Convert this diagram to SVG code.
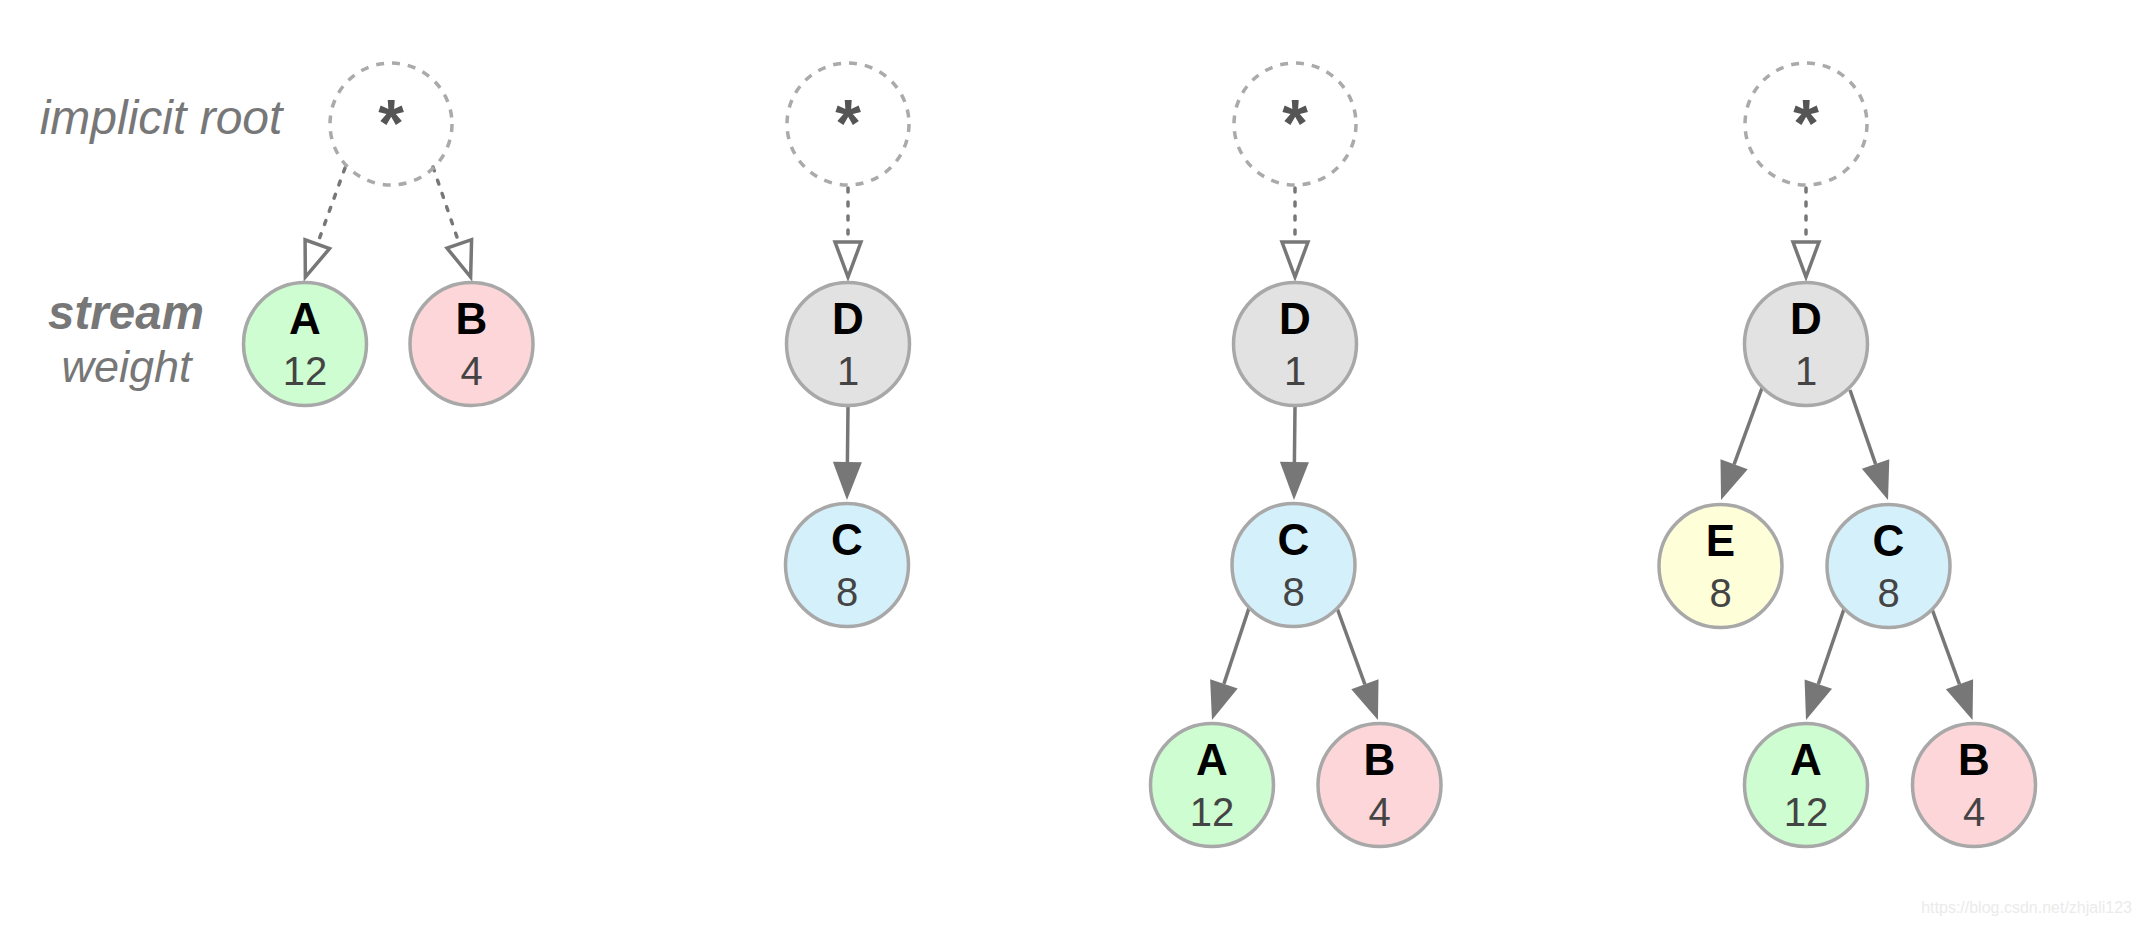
<svg xmlns="http://www.w3.org/2000/svg" width="2142" height="926" viewBox="0 0 2142 926">
<style>
.node{stroke:#a8a8a8;stroke-width:3.5}
.root{fill:none;stroke:#aaaaaa;stroke-width:3.5;stroke-dasharray:8 8}
.lbl{font-family:"Liberation Sans",Arial,sans-serif;font-weight:bold;font-size:44px;fill:#000;text-anchor:middle}
.num{font-family:"Liberation Sans",Arial,sans-serif;font-size:40px;fill:#444;text-anchor:middle}
.star{font-family:"Liberation Sans",Arial,sans-serif;font-weight:bold;font-size:66px;fill:#555;text-anchor:middle}
.side{font-family:"Liberation Sans",Arial,sans-serif;font-style:italic;font-size:46px;fill:#777;text-anchor:middle}
.dot{stroke:#777;stroke-width:3.5;stroke-linecap:round;stroke-dasharray:4 10;fill:none;marker-end:url(#open)}
.sol{stroke:#777;stroke-width:3.5;fill:none;marker-end:url(#fill)}
.a{fill:#cdfdd1}.b{fill:#fdd6d9}.c{fill:#d4f0fb}.d{fill:#e2e2e2}.e{fill:#fefed9}
</style>
<defs>
<marker id="open" markerUnits="userSpaceOnUse" markerWidth="50" markerHeight="40" refX="0" refY="0" viewBox="-5 -20 50 40" orient="auto" overflow="visible">
<path d="M0,-13 L35,0 L0,13 Z" fill="#fff" stroke="#777" stroke-width="3.5" stroke-linejoin="miter"/>
</marker>
<marker id="fill" markerUnits="userSpaceOnUse" markerWidth="50" markerHeight="40" refX="0" refY="0" viewBox="-5 -20 50 40" orient="auto" overflow="visible">
<path d="M0,-14.5 L38,0 L0,14.5 Z" fill="#777"/>
</marker>
</defs>
<rect width="2142" height="926" fill="#fff"/>

<g id="labels">
<text class="side" x="161" y="134" style="font-size:48px">implicit root</text>
<text class="side" x="126" y="329" font-weight="bold" style="font-size:47.5px">stream</text>
<text class="side" x="126.5" y="382" style="font-size:45px">weight</text>
</g>

<g id="connectors">
<line class="dot" x1="345" y1="168" x2="317.3" y2="244.2"/>
<line class="dot" x1="433" y1="167" x2="459.3" y2="243.9"/>
<line class="dot" x1="848" y1="188" x2="848" y2="242"/>
<line class="dot" x1="1295" y1="188" x2="1295" y2="242"/>
<line class="dot" x1="1806" y1="188" x2="1806" y2="242"/>
<line class="sol" x1="848" y1="407" x2="847.4" y2="462"/>
<line class="sol" x1="1295" y1="407" x2="1294.4" y2="462"/>
<line class="sol" x1="1249" y1="608" x2="1223.9" y2="683.9"/>
<line class="sol" x1="1337" y1="608" x2="1364.9" y2="684.3"/>
<line class="sol" x1="1762" y1="388" x2="1734.1" y2="464.3"/>
<line class="sol" x1="1850" y1="390" x2="1875.6" y2="464.1"/>
<line class="sol" x1="1844" y1="609" x2="1818.3" y2="684.1"/>
<line class="sol" x1="1932" y1="609" x2="1959.5" y2="684.3"/>
</g>

<g id="p1-root"><circle class="root" cx="391" cy="124" r="61"/><text class="star" x="391" y="146">*</text></g>
<g id="p1-A"><circle class="node a" cx="305" cy="344" r="61.5"/><text class="lbl" x="305" y="334">A</text><text class="num" x="305" y="385">12</text></g>
<g id="p1-B"><circle class="node b" cx="471.5" cy="344" r="61.5"/><text class="lbl" x="471.5" y="334">B</text><text class="num" x="471.5" y="385">4</text></g>

<g id="p2-root"><circle class="root" cx="848" cy="124" r="61"/><text class="star" x="848" y="146">*</text></g>
<g id="p2-D"><circle class="node d" cx="848" cy="344" r="61.5"/><text class="lbl" x="848" y="334">D</text><text class="num" x="848" y="385">1</text></g>
<g id="p2-C"><circle class="node c" cx="847" cy="565" r="61.5"/><text class="lbl" x="847" y="555">C</text><text class="num" x="847" y="606">8</text></g>

<g id="p3-root"><circle class="root" cx="1295" cy="124" r="61"/><text class="star" x="1295" y="146">*</text></g>
<g id="p3-D"><circle class="node d" cx="1295" cy="344" r="61.5"/><text class="lbl" x="1295" y="334">D</text><text class="num" x="1295" y="385">1</text></g>
<g id="p3-C"><circle class="node c" cx="1293.5" cy="565" r="61.5"/><text class="lbl" x="1293.5" y="555">C</text><text class="num" x="1293.5" y="606">8</text></g>
<g id="p3-A"><circle class="node a" cx="1212" cy="785" r="61.5"/><text class="lbl" x="1212" y="775">A</text><text class="num" x="1212" y="826">12</text></g>
<g id="p3-B"><circle class="node b" cx="1379.5" cy="785" r="61.5"/><text class="lbl" x="1379.5" y="775">B</text><text class="num" x="1379.5" y="826">4</text></g>

<g id="p4-root"><circle class="root" cx="1806" cy="124" r="61"/><text class="star" x="1806" y="146">*</text></g>
<g id="p4-D"><circle class="node d" cx="1806" cy="344" r="61.5"/><text class="lbl" x="1806" y="334">D</text><text class="num" x="1806" y="385">1</text></g>
<g id="p4-E"><circle class="node e" cx="1720.5" cy="566" r="61.5"/><text class="lbl" x="1720.5" y="556">E</text><text class="num" x="1720.5" y="607">8</text></g>
<g id="p4-C"><circle class="node c" cx="1888.5" cy="566" r="61.5"/><text class="lbl" x="1888.5" y="556">C</text><text class="num" x="1888.5" y="607">8</text></g>
<g id="p4-A"><circle class="node a" cx="1806" cy="785" r="61.5"/><text class="lbl" x="1806" y="775">A</text><text class="num" x="1806" y="826">12</text></g>
<g id="p4-B"><circle class="node b" cx="1974" cy="785" r="61.5"/><text class="lbl" x="1974" y="775">B</text><text class="num" x="1974" y="826">4</text></g>

<text x="2132" y="913" font-family="Liberation Sans, Arial, sans-serif" font-size="16" fill="#ebebeb" text-anchor="end">https://blog.csdn.net/zhjali123</text>
</svg>
